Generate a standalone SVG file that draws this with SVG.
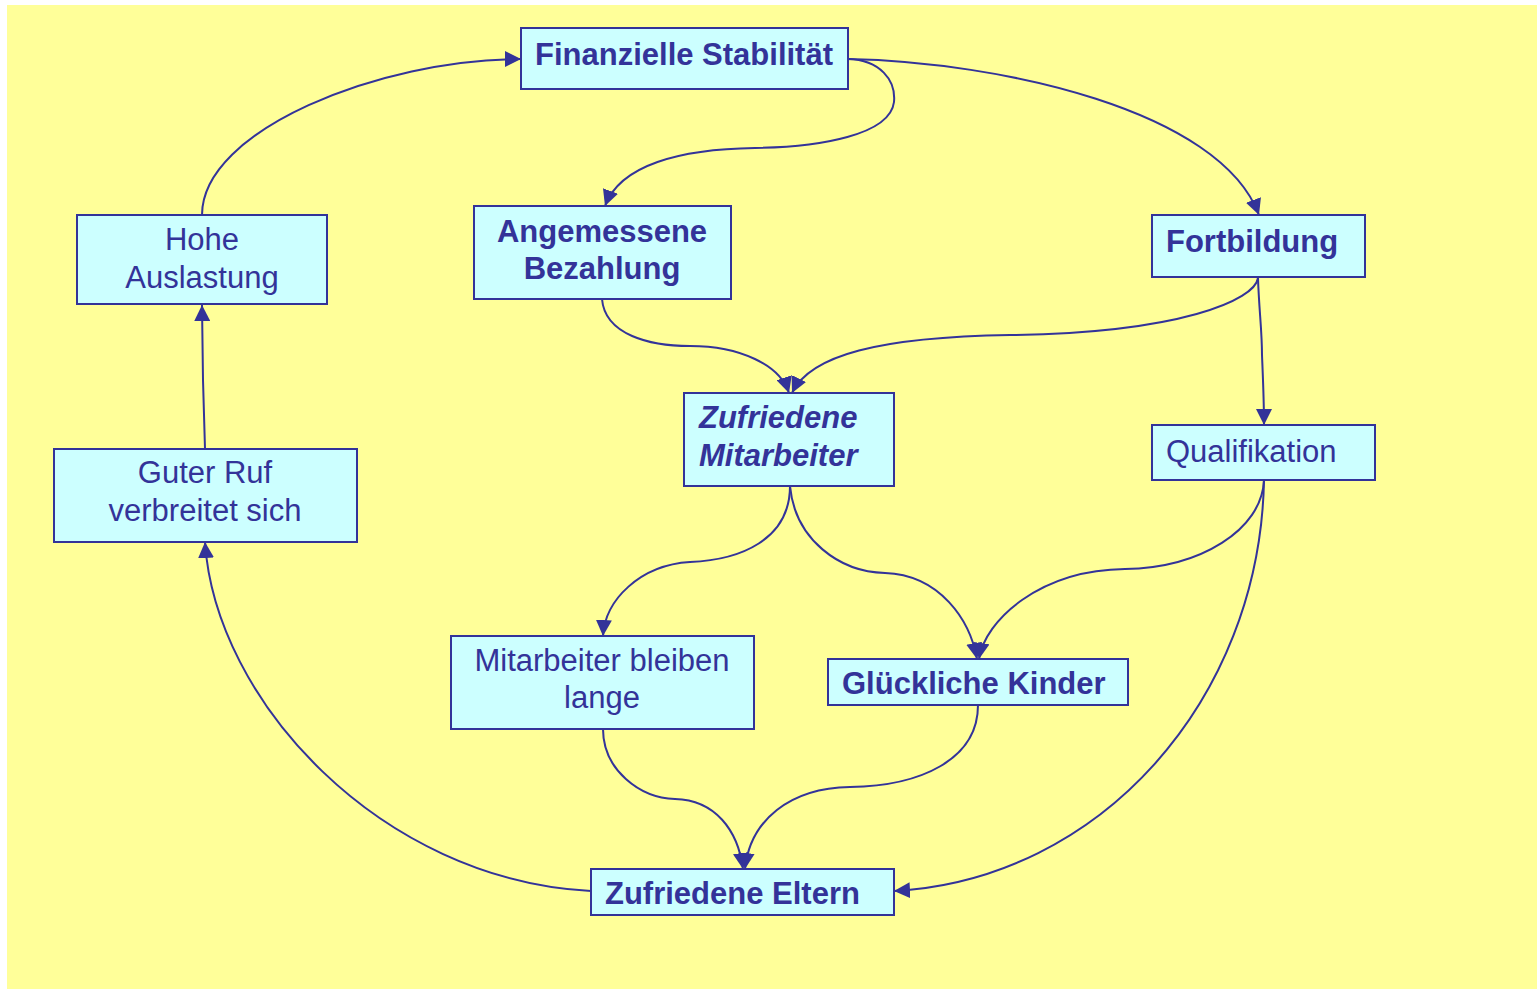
<svg xmlns="http://www.w3.org/2000/svg" width="1537" height="989" viewBox="0 0 1537 989">
<defs>
<style>
.box{fill:#CCFFFF;stroke:#333399;stroke-width:2}
.t{font-family:"Liberation Sans",Arial,sans-serif;font-size:31px;fill:#333399}
.b{font-weight:bold}
.i{font-style:italic}
.c{text-anchor:middle}
.e{fill:none;stroke:#333399;stroke-width:2;marker-end:url(#arr)}
</style>
<marker id="arr" markerUnits="userSpaceOnUse" markerWidth="18" markerHeight="16" refX="16" refY="8" orient="auto">
<path d="M0,0 L16,8 L0,16 Z" fill="#333399"/>
</marker>
</defs>
<rect x="0" y="0" width="1537" height="989" fill="#FFFFFF"/>
<rect x="7" y="5" width="1530" height="984" fill="#FFFF99"/>
<g id="connectors">
<path class="e" d="M202,215 C202,130 380,59 521,59"/>
<path class="e" d="M848,59 C880,60 896,80 894,102 C890,135 820,147 755,148 C680,149 620,165 605,206"/>
<path class="e" d="M848,59 C1000,62 1220,110 1259,215"/>
<path class="e" d="M602,299 C605,335 650,346 690,346 C740,346 780,365 789,393"/>
<path class="e" d="M1258,278 C1255,300 1180,333 1010,335 C880,337 810,355 792,393"/>
<path class="e" d="M1258,278 C1259,310 1262,330 1262,355 C1263,380 1264,400 1264,425"/>
<path class="e" d="M205,449 L203,380 L202,305"/>
<path class="e" d="M790,486 C790,540 740,560 690,562 C640,565 605,600 603,636"/>
<path class="e" d="M790,486 C795,540 840,572 885,573 C940,575 970,620 977,659"/>
<path class="e" d="M1264,480 C1262,530 1200,568 1125,569 C1040,570 985,620 979,659"/>
<path class="e" d="M1264,480 C1260,700 1100,880 894,891"/>
<path class="e" d="M603,729 C603,770 640,798 675,799 C715,800 738,830 743,869"/>
<path class="e" d="M978,705 C978,760 920,786 850,787 C790,788 750,820 745,869"/>
<path class="e" d="M591,891 C380,880 215,700 205,542"/>
</g>
<g id="n-finanz">
<rect class="box" x="521" y="28" width="327" height="61"/>
<text class="t b c" x="684" y="65">Finanzielle Stabilität</text>
</g>
<g id="n-hohe">
<rect class="box" x="77" y="215" width="250" height="89"/>
<text class="t c" x="202" y="250">Hohe</text>
<text class="t c" x="202" y="288">Auslastung</text>
</g>
<g id="n-bezahlung">
<rect class="box" x="474" y="206" width="257" height="93"/>
<text class="t b c" x="602" y="242">Angemessene</text>
<text class="t b c" x="602" y="279">Bezahlung</text>
</g>
<g id="n-fortbildung">
<rect class="box" x="1152" y="215" width="213" height="62"/>
<text class="t b" x="1166" y="252">Fortbildung</text>
</g>
<g id="n-mitarbeiter">
<rect class="box" x="684" y="393" width="210" height="93"/>
<text class="t b i" x="699" y="428">Zufriedene</text>
<text class="t b i" x="699" y="466">Mitarbeiter</text>
</g>
<g id="n-qualifikation">
<rect class="box" x="1152" y="425" width="223" height="55"/>
<text class="t" x="1166" y="462">Qualifikation</text>
</g>
<g id="n-ruf">
<rect class="box" x="54" y="449" width="303" height="93"/>
<text class="t c" x="205" y="483">Guter Ruf</text>
<text class="t c" x="205" y="521">verbreitet sich</text>
</g>
<g id="n-bleiben">
<rect class="box" x="451" y="636" width="303" height="93"/>
<text class="t c" x="602" y="671">Mitarbeiter bleiben</text>
<text class="t c" x="602" y="708">lange</text>
</g>
<g id="n-kinder">
<rect class="box" x="828" y="659" width="300" height="46"/>
<text class="t b" x="842" y="694">Glückliche Kinder</text>
</g>
<g id="n-eltern">
<rect class="box" x="591" y="869" width="303" height="46"/>
<text class="t b" x="605" y="904">Zufriedene Eltern</text>
</g>
</svg>
